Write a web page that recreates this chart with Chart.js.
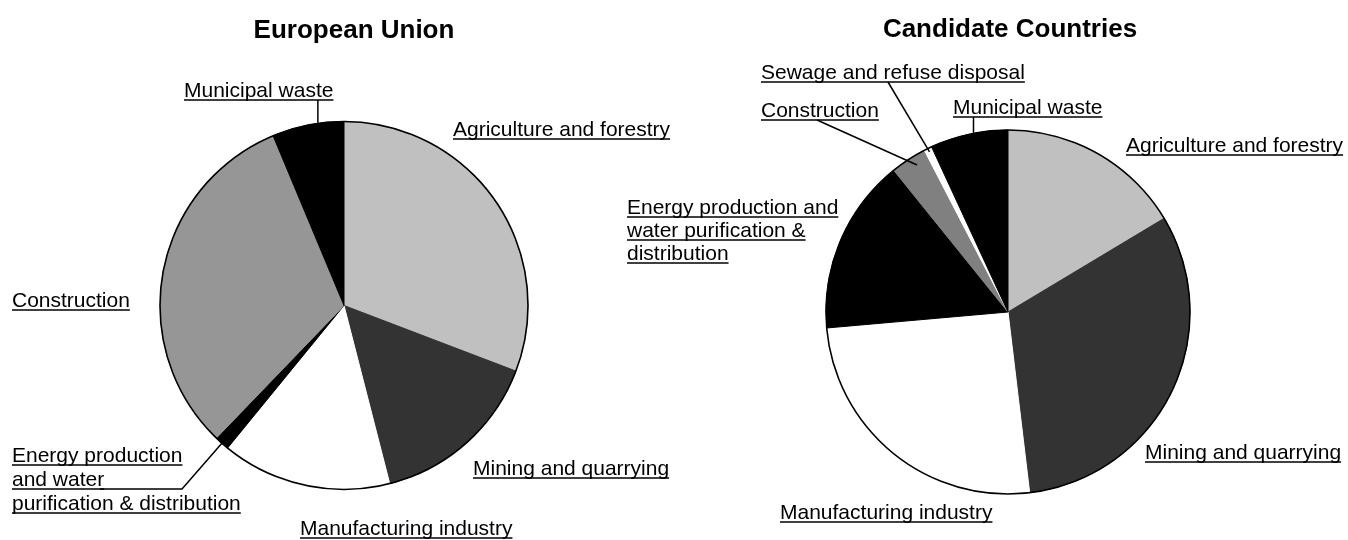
<!DOCTYPE html>
<html>
<head>
<meta charset="utf-8">
<script src="https://cdn.jsdelivr.net/npm/chart.js@4.4.0/dist/chart.umd.min.js"></script>
<style>
  body { margin: 0; background: #fff; }
  #wrap { position: relative; width: 1348px; height: 540px; }
  #wrap canvas { position: absolute; left: 0; top: 0; }
</style>
</head>
<body>
<div id="wrap">
  <canvas id="euChart" width="1348" height="540"></canvas>
  <canvas id="ccChart" width="1348" height="540"></canvas>
</div>
<script>
//Shares (%), clockwise from 12 o'clock
const euSectors = ['Agriculture and forestry', 'Mining and quarrying', 'Manufacturing industry',
    'Energy production and water purification & distribution', 'Construction', 'Municipal waste'];
const euShares = [30.8, 15.2, 14.9, 1.3, 31.5, 6.3];

const ccSectors = ['Agriculture and forestry', 'Mining and quarrying', 'Manufacturing industry',
    'Energy production and water purification & distribution', 'Construction',
    'Sewage and refuse disposal', 'Municipal waste'];
const ccShares = [16.4, 31.7, 25.5, 15.6, 3.2, 0.7, 6.9];

//Slice fills
const euColors = ['#c0c0c0', '#333333', '#ffffff', '#000000', '#969696', '#000000'];
const ccColors = ['#c0c0c0', '#333333', '#ffffff', '#000000', '#808080', '#ffffff', '#000000'];

const FONT = '"Liberation Sans", Arial, sans-serif';

//Draws the outline, the title and the underlined labels with their leader lines
const sectorLabels = {
    id: 'sectorLabels',
    afterDatasetsDraw(chart, args, opts) {
        const ctx = chart.ctx;
        const arcs = chart.getDatasetMeta(0).data;
        const c = arcs[0];
        ctx.save();
        ctx.strokeStyle = '#000';
        ctx.fillStyle = '#000';

        ctx.beginPath();
        ctx.arc(c.x, c.y, c.outerRadius, 0, Math.PI * 2);
        ctx.lineWidth = 1.6;
        ctx.stroke();

        ctx.font = 'bold 26px ' + FONT;
        ctx.textAlign = 'center';
        ctx.textBaseline = 'alphabetic';
        ctx.fillText(opts.title, opts.titleX, opts.titleY);

        ctx.font = '21px ' + FONT;
        ctx.textAlign = 'left';
        ctx.lineWidth = 1.5;
        opts.labels.forEach((lb) => {
            lb.lines.forEach((line, i) => {
                const y = lb.y + i * (lb.gap || 0);
                ctx.fillText(line, lb.x, y);
                const w = ctx.measureText(line).width;
                ctx.beginPath();
                ctx.moveTo(lb.x, y + 3);
                ctx.lineTo(lb.x + w, y + 3);
                ctx.stroke();
            });
            if (lb.leader) {
                //End of the leader sits inside the slice it points to
                const arc = arcs[lb.index];
                const a = arc.startAngle + (arc.endAngle - arc.startAngle) * lb.leader.t;
                const r = arc.outerRadius * lb.leader.r;
                const ex = arc.x + Math.cos(a) * r;
                const ey = arc.y + Math.sin(a) * r;
                ctx.beginPath();
                if (lb.leader.fromY !== undefined) {
                    ctx.moveTo(ex, lb.leader.fromY);
                } else {
                    lb.leader.from.forEach((p, i) => i ? ctx.lineTo(p[0], p[1]) : ctx.moveTo(p[0], p[1]));
                }
                ctx.lineTo(ex, ey);
                ctx.stroke();
            }
        });
        ctx.restore();
    }
};

function makePie(id, labels, values, colors, radius, padding, labelOpts) {
    return new Chart(document.getElementById(id), {
        type: 'pie',
        data: {
            labels: labels,
            datasets: [{
                data: values,
                backgroundColor: colors,
                borderColor: colors,
                borderWidth: 1,
                radius: radius
            }]
        },
        options: {
            responsive: false,
            animation: false,
            events: [],
            layout: { padding: padding },
            plugins: {
                legend: { display: false },
                tooltip: { enabled: false },
                sectorLabels: labelOpts
            }
        },
        plugins: [sectorLabels]
    });
}

makePie('euChart', euSectors, euShares, euColors, 184,
    { left: 160, right: 820, top: 121.5, bottom: 50.5 },
    {
        title: 'European Union', titleX: 354, titleY: 38,
        labels: [
            { index: 0, lines: ['Agriculture and forestry'], x: 453, y: 136 },
            { index: 1, lines: ['Mining and quarrying'], x: 473, y: 475 },
            { index: 2, lines: ['Manufacturing industry'], x: 300, y: 535 },
            { index: 3, lines: ['Energy production', 'and water', 'purification & distribution'], x: 12, y: 462, gap: 24,
                leader: { from: [[100, 489], [182, 489]], t: 0.5, r: 1 } },
            { index: 4, lines: ['Construction'], x: 12, y: 307 },
            { index: 5, lines: ['Municipal waste'], x: 184, y: 97,
                leader: { fromY: 100, t: 0.64, r: 1 } }
        ]
    });

makePie('ccChart', ccSectors, ccShares, ccColors, 182,
    { left: 826, right: 158, top: 130, bottom: 46 },
    {
        title: 'Candidate Countries', titleX: 1010, titleY: 37,
        labels: [
            { index: 0, lines: ['Agriculture and forestry'], x: 1126, y: 152 },
            { index: 1, lines: ['Mining and quarrying'], x: 1145, y: 459 },
            { index: 2, lines: ['Manufacturing industry'], x: 780, y: 519 },
            { index: 3, lines: ['Energy production and', 'water purification &', 'distribution'], x: 627, y: 214, gap: 23 },
            { index: 4, lines: ['Construction'], x: 761, y: 117,
                leader: { from: [[817, 120]], t: 0.62, r: 0.95 } },
            { index: 5, lines: ['Sewage and refuse disposal'], x: 761, y: 79,
                leader: { from: [[888, 82]], t: 0.5, r: 0.98 } },
            { index: 6, lines: ['Municipal waste'], x: 953, y: 114,
                leader: { fromY: 117, t: 0.56, r: 1 } }
        ]
    });
</script>
</body>
</html>
